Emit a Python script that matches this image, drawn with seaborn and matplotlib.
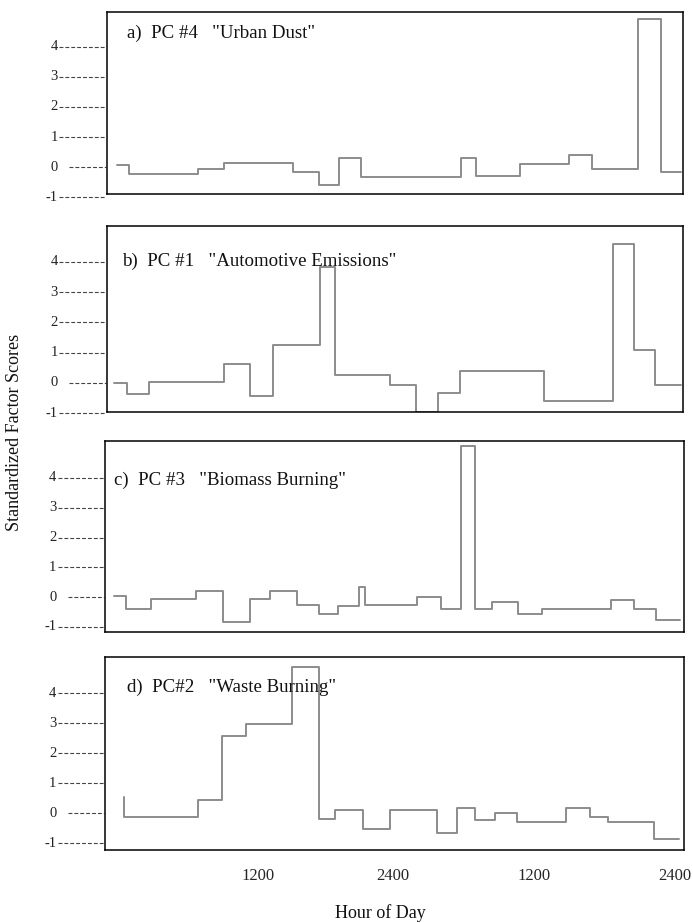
import numpy as np
import pandas as pd
import matplotlib
matplotlib.use("Agg")
import matplotlib.pyplot as plt
import seaborn as sns

# ---- data (hours from start of the 48 h period, step edges) ----
a_edges = [0.0, 1.0, 6.9, 9.1, 15.0, 17.2, 18.9, 20.8, 29.3, 30.6, 34.4, 38.5, 40.5, 44.4, 46.4, 48.1]
a_vals = [0.07, -0.22, -0.06, 0.14, -0.17, -0.59, 0.32, -0.32, 0.32, -0.29, 0.10, 0.39, -0.07, 4.91, -0.17]

b_edges = [-0.26, 0.83, 2.68, 9.13, 11.3, 13.3, 17.3, 18.6, 23.3, 25.5, 27.4, 29.2, 36.4, 42.3, 44.1, 45.9, 48.1]
b_vals = [-0.01, -0.35, 0.02, 0.64, -0.42, 1.26, 3.82, 0.25, -0.08, -0.96, -0.34, 0.41, -0.59, 4.59, 1.08, -0.07]

c_edges = [-0.26, 0.72, 2.88, 6.7, 9.0, 11.3, 13.0, 15.3, 17.2, 18.8, 20.6, 21.1, 25.6, 27.6, 29.3, 30.5,
           32.0, 34.2, 36.2, 42.1, 44.1, 46.0, 48.0]
c_vals = [0.04, -0.39, -0.06, 0.21, -0.83, -0.06, 0.22, -0.25, -0.56, -0.30, 0.35, -0.27, 0.01, -0.39, 5.07,
          -0.39, -0.17, -0.55, -0.39, -0.11, -0.39, -0.78]

d_edges = [0.53, 0.57, 6.9, 8.9, 11.0, 14.9, 17.2, 18.6, 21.0, 23.3, 27.3, 29.0, 30.5, 32.2, 34.1, 38.3,
           40.3, 41.9, 45.8, 47.9]
d_vals = [0.54, -0.12, 0.43, 2.56, 2.96, 4.87, -0.19, 0.10, -0.52, 0.10, -0.68, 0.16, -0.24, -0.01, -0.30,
          0.16, -0.12, -0.30, -0.86]

titles = ['a)  PC #4   "Urban Dust"',
          'b)  PC #1   "Automotive Emissions"',
          'c)  PC #3   "Biomass Burning"',
          'd)  PC#2   "Waste Burning"']

ytick_vals = [4, 3, 2, 1, 0, -1]
xtick_pos = [12.0, 23.5, 35.6, 47.6]
xtick_labels = ["1200", "2400", "1200", "2400"]

# ---- layout ----
W, H = 693, 923
sns.set_theme(style="white")
plt.rcParams['font.family'] = ['Liberation Serif', 'DejaVu Serif']
fig = plt.figure(figsize=(W / 100, H / 100), dpi=100)

boxes = [(107, 683, 12, 194), (107, 683, 226, 412), (105.5, 684, 441, 632), (105.5, 684, 657, 850)]
ylims = [(-0.89, 5.15), (-0.96, 5.19), (-1.17, 5.24), (-1.23, 5.20)]
title_pos = [(0.034, 0.885), (0.0255, 0.808), (0.015, 0.796), (0.037, 0.843)]
series = [(a_edges, a_vals), (b_edges, b_vals), (c_edges, c_vals), (d_edges, d_vals)]

px_per_hr = 11.72
x0_px = 117.3

for i, ((l, r, t, b), ylim, tp, (edges, vals)) in enumerate(zip(boxes, ylims, title_pos, series)):
    ax = fig.add_axes([l / W, 1 - b / H, (r - l) / W, (b - t) / H])
    df = pd.DataFrame({"hour": edges, "score": list(vals) + [vals[-1]]})
    sns.lineplot(data=df, x="hour", y="score", ax=ax, drawstyle="steps-post",
                 color="#8c8c8c", lw=1.4, estimator=None, sort=False)
    ax.set_xlim((l - x0_px) / px_per_hr, (r - x0_px) / px_per_hr)
    ax.set_ylim(*ylim)
    ax.set_xlabel("")
    ax.set_ylabel("")
    ax.set_yticks([])
    if i == 3:
        ax.set_xticks(xtick_pos)
        ax.set_xticklabels(xtick_labels, fontsize=12)
        ax.tick_params(axis="x", length=0, pad=13)
    else:
        ax.set_xticks([])
    for s in ax.spines.values():
        s.set_color("black")
        s.set_linewidth(1.1)
    # y tick labels with dashed leaders
    tr = ax.get_yaxis_transform()
    axw = r - l
    for v in ytick_vals:
        ax.text(-49 / axw, v, str(v), transform=tr, ha="right", va="center",
                fontsize=10.5, color="#222222", clip_on=False)
        start = -48 / axw if v != 0 else -38 / axw
        ax.plot([start, -1.5 / axw], [v, v], transform=tr, color="#444444", lw=0.8,
                ls=(0, (3.5, 1.8)), clip_on=False)
    ax.text(tp[0], tp[1], titles[i], transform=ax.transAxes, ha="left", va="center",
            fontsize=13.6, color="#111111")

fig.text(15 / W, 1 - 432 / H, "Standardized Factor Scores", rotation=90, ha="center", va="center",
         fontsize=13, color="#111111")
fig.text(380 / W, 1 - 913 / H, "Hour of Day", ha="center", va="center", fontsize=13, color="#111111")

fig.savefig("out.png", dpi=100, facecolor="white")
